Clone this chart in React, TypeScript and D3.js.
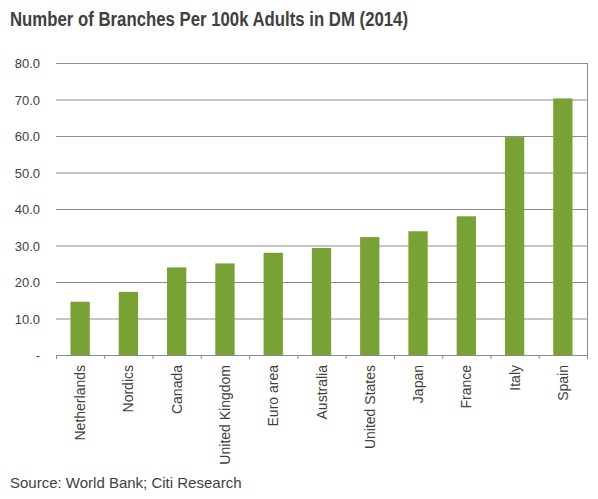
import { useEffect, useRef } from "react";
import * as d3 from "d3";

const categories = ["Netherlands", "Nordics", "Canada", "United Kingdom", "Euro area", "Australia", "United States", "Japan", "France", "Italy", "Spain"];
const values = [14.6, 17.3, 24.0, 25.1, 28.0, 29.3, 32.3, 33.9, 38.0, 59.7, 70.3];
const yTicks = [0, 10, 20, 30, 40, 50, 60, 70, 80];

const W = 598, H = 499;
const BAR = "#79A234";
const TEXT = "#404040";
const GRID = "#8C8C8C";

export default function App() {
  const ref = useRef<SVGSVGElement>(null);

  useEffect(() => {
    if (!ref.current) return;
    const svg = d3.select(ref.current);
    svg.selectAll("*").remove();

    const ML = 56, MR = 11, MT = 63, MB = 144;
    const x = d3.scaleBand().domain(categories).range([ML, W - MR]).paddingInner(0.6).paddingOuter(0.3);
    const y = d3.scaleLinear().domain([0, 80]).range([H - MB, MT]);

    svg.append("text")
      .attr("x", 10).attr("y", 26)
      .attr("font-family", "'Liberation Sans Narrow', 'Arial Narrow', sans-serif")
      .attr("font-weight", 700).attr("font-size", 20).attr("fill", TEXT)
      .attr("textLength", 398).attr("lengthAdjust", "spacingAndGlyphs")
      .text("Number of Branches Per 100k Adults in DM (2014)");

    // gridlines
    svg.append("g").selectAll("line").data(yTicks.filter(t => t > 0)).join("line")
      .attr("x1", ML).attr("x2", W - MR)
      .attr("y1", d => y(d) + 0.5).attr("y2", d => y(d) + 0.5)
      .attr("stroke", GRID).attr("stroke-width", 1);

    // right border
    svg.append("line")
      .attr("x1", W - MR + 0.5).attr("x2", W - MR + 0.5)
      .attr("y1", y(80)).attr("y2", y(0) + 4)
      .attr("stroke", GRID);

    // y labels
    svg.append("g").selectAll("text").data(yTicks).join("text")
      .attr("x", 40).attr("y", d => y(d) + 5)
      .attr("text-anchor", "end")
      .attr("font-family", "'Liberation Sans', Arial, sans-serif")
      .attr("font-size", 13).attr("fill", TEXT)
      .text(d => d === 0 ? "-" : d.toFixed(1));

    // bars
    svg.append("g").selectAll("rect").data(values).join("rect")
      .attr("x", (_, i) => x(categories[i])!)
      .attr("y", d => y(d))
      .attr("width", x.bandwidth())
      .attr("height", d => y(0) - y(d))
      .attr("fill", BAR);

    // x axis
    const step = x.step();
    svg.append("line")
      .attr("x1", ML).attr("x2", W - MR)
      .attr("y1", y(0) + 0.5).attr("y2", y(0) + 0.5)
      .attr("stroke", GRID);
    svg.append("g").selectAll("line").data(d3.range(categories.length + 1)).join("line")
      .attr("x1", i => ML + i * step + 0.5).attr("x2", i => ML + i * step + 0.5)
      .attr("y1", y(0)).attr("y2", y(0) + 4)
      .attr("stroke", GRID);

    svg.append("g").selectAll("text").data(categories).join("text")
      .attr("transform", d => `translate(${x(d)! + x.bandwidth() / 2 + 5},${y(0) + 10})rotate(-90)`)
      .attr("text-anchor", "end")
      .attr("font-family", "'Liberation Sans', Arial, sans-serif")
      .attr("font-size", 14).attr("fill", TEXT)
      .text(d => d);

    svg.append("text")
      .attr("x", 10).attr("y", 488)
      .attr("font-family", "'Liberation Sans', Arial, sans-serif")
      .attr("font-size", 15).attr("fill", TEXT)
      .text("Source: World Bank; Citi Research");
  }, []);

  return (
    <div style={{ position: "absolute", left: 0, top: 0 }}>
      <svg ref={ref} width={W} height={H} style={{ display: "block", background: "#fff" }} />
    </div>
  );
}
